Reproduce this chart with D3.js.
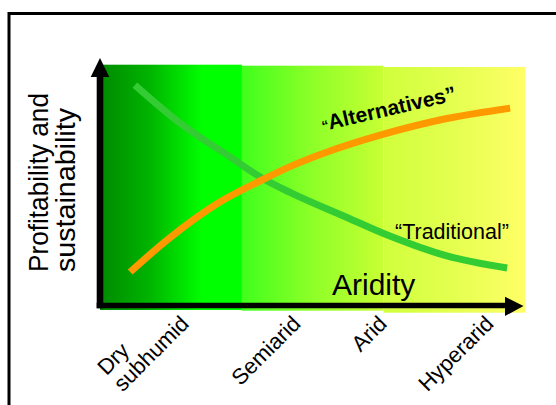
<!DOCTYPE html>
<html>
<head>
<meta charset="utf-8">
<script src="https://cdn.jsdelivr.net/npm/d3@7"></script>
<style>
  html, body { margin: 0; padding: 0; background: #fff; }
  svg { display: block; }
  text { font-family: "Liberation Sans", Arial, Helvetica, sans-serif; fill: #000; }
</style>
</head>
<body>
<svg id="chart" width="556" height="405"></svg>
<script>
// ---- data ----
const categories = [["Dry", "subhumid"], ["Semiarid"], ["Arid"], ["Hyperarid"]];
const categoryTicks = [2.12, 4.75, 6.78, 9.29]; // aridity positions (label ends)

const traditionalX = [0.82, 1.88, 3.06, 3.81, 4.47, 5.81, 6.82, 8.16, 9.58];
const traditionalY = [8.87, 7.34, 5.97, 5.12, 4.54, 3.53, 2.78, 1.98, 1.49];

const alternativesX = [0.71, 1.58, 2.82, 3.81, 4.47, 5.41, 6.59, 8.16, 9.65];
const alternativesY = [1.33, 2.62, 4.15, 5.04, 5.58, 6.21, 6.85, 7.52, 7.94];

const yLabelLines = ["Profitability and", "sustainability"];
const xTitle = "Aridity";
const seriesLabels = ["Traditional", "Alternatives"];

// ---- scales ----
const svg = d3.select("#chart");
const x = d3.scaleLinear().domain([0, 10]).range([100, 525]);
const y = d3.scaleLinear().domain([0, 10]).range([305, 57]);

// ---- outer frame ----
svg.append("rect")
  .attr("x", 9).attr("y", 13.5)
  .attr("width", 600).attr("height", 450)
  .attr("fill", "none").attr("stroke", "#000").attr("stroke-width", 3);

// ---- background gradient zones ----
const defs = svg.append("defs");
const zones = [
  { x0: 0, x1: 3.34, top: 64.7, bottom: 310, stops: [[0, "#008a00"], [0.35, "#00b400"], [0.72, "#00ff00"], [1, "#00ff00"]] },
  { x0: 3.34, x1: 6.67, top: 65.7, bottom: 310.7, stops: [[0, "#40ff1c"], [0.5, "#8eff28"], [1, "#c8ff33"]] },
  { x0: 6.67, x1: 10, top: 67, bottom: 312.7, stops: [[0, "#d0ff3c"], [0.5, "#e4ff50"], [1, "#ffff66"]] }
];
zones.forEach((z, i) => {
  const g = defs.append("linearGradient").attr("id", "zone" + i)
    .attr("x1", "0%").attr("x2", "100%").attr("y1", "0%").attr("y2", "0%");
  z.stops.forEach(s => g.append("stop").attr("offset", s[0]).attr("stop-color", s[1]));
  svg.append("rect")
    .attr("x", x(z.x0)).attr("y", z.top)
    .attr("width", x(z.x1) - x(z.x0)).attr("height", z.bottom - z.top)
    .attr("fill", "url(#zone" + i + ")");
});

// ---- curves ----
const line = d3.line().x(d => x(d[0])).y(d => y(d[1])).curve(d3.curveMonotoneX);
const trad = traditionalX.map((v, i) => [v, traditionalY[i]]);
const alt = alternativesX.map((v, i) => [v, alternativesY[i]]);

svg.append("path").attr("d", line(trad))
  .attr("fill", "none").attr("stroke", "#33cc33").attr("stroke-width", 7).attr("stroke-linecap", "butt");
svg.append("path").attr("d", line(alt))
  .attr("fill", "none").attr("stroke", "#ff9900").attr("stroke-width", 7).attr("stroke-linecap", "butt");

// ---- axes (bold arrows) ----
svg.append("line")
  .attr("x1", x(0)).attr("x2", x(0)).attr("y1", 308.3).attr("y2", 74)
  .attr("stroke", "#000").attr("stroke-width", 6.6);
svg.append("path")
  .attr("d", `M${x(0)},${y(10) + 1} L${x(0) - 9.3},${y(10) + 20} L${x(0) + 9.3},${y(10) + 20} Z`)
  .attr("fill", "#000");
svg.append("line")
  .attr("x1", x(0) - 3.3).attr("x2", 508).attr("y1", 305.5).attr("y2", 305.5)
  .attr("stroke", "#000").attr("stroke-width", 5.7);
svg.append("path")
  .attr("d", `M${x(10) - 1.5},306 L505,296.7 L505,316 Z`)
  .attr("fill", "#000");

// ---- axis titles ----
svg.append("text").attr("x", 332).attr("y", 295)
  .attr("font-size", 30).text(xTitle);

const yl = svg.append("g").attr("transform", "translate(48,272) rotate(-90)");
yl.append("text").attr("x", 0).attr("y", 0).attr("font-size", 28.5)
  .attr("textLength", 179).attr("lengthAdjust", "spacingAndGlyphs").text(yLabelLines[0]);
yl.append("text").attr("x", 0).attr("y", 27).attr("font-size", 28.5)
  .attr("textLength", 164).attr("lengthAdjust", "spacingAndGlyphs").text(yLabelLines[1]);

// ---- category labels ----
categories.forEach((lines, i) => {
  const g = svg.append("g")
    .attr("transform", `translate(${x(categoryTicks[i])},325) rotate(-45)`);
  const last = g.append("text").attr("text-anchor", "end").attr("font-size", 22)
    .attr("x", 0).attr("y", 0).text(lines[lines.length - 1]);
  const w = last.node().getComputedTextLength();
  for (let k = 0; k < lines.length - 1; k++) {
    g.append("text").attr("text-anchor", "start").attr("font-size", 22)
      .attr("x", -w).attr("y", -23 * (lines.length - 1 - k)).text(lines[k]);
  }
});

// ---- series labels ----
svg.append("text").attr("x", 395).attr("y", 238.5).attr("font-size", 21.5)
  .text("\u201C" + seriesLabels[0] + "\u201D");

const altText = svg.append("text")
  .attr("transform", "translate(323,131) rotate(-13)")
  .attr("font-size", 21).attr("font-weight", "bold");
altText.append("tspan").attr("font-size", 14).text("\u201C");
altText.append("tspan").text(seriesLabels[1] + "\u201D");
</script>
</body>
</html>
